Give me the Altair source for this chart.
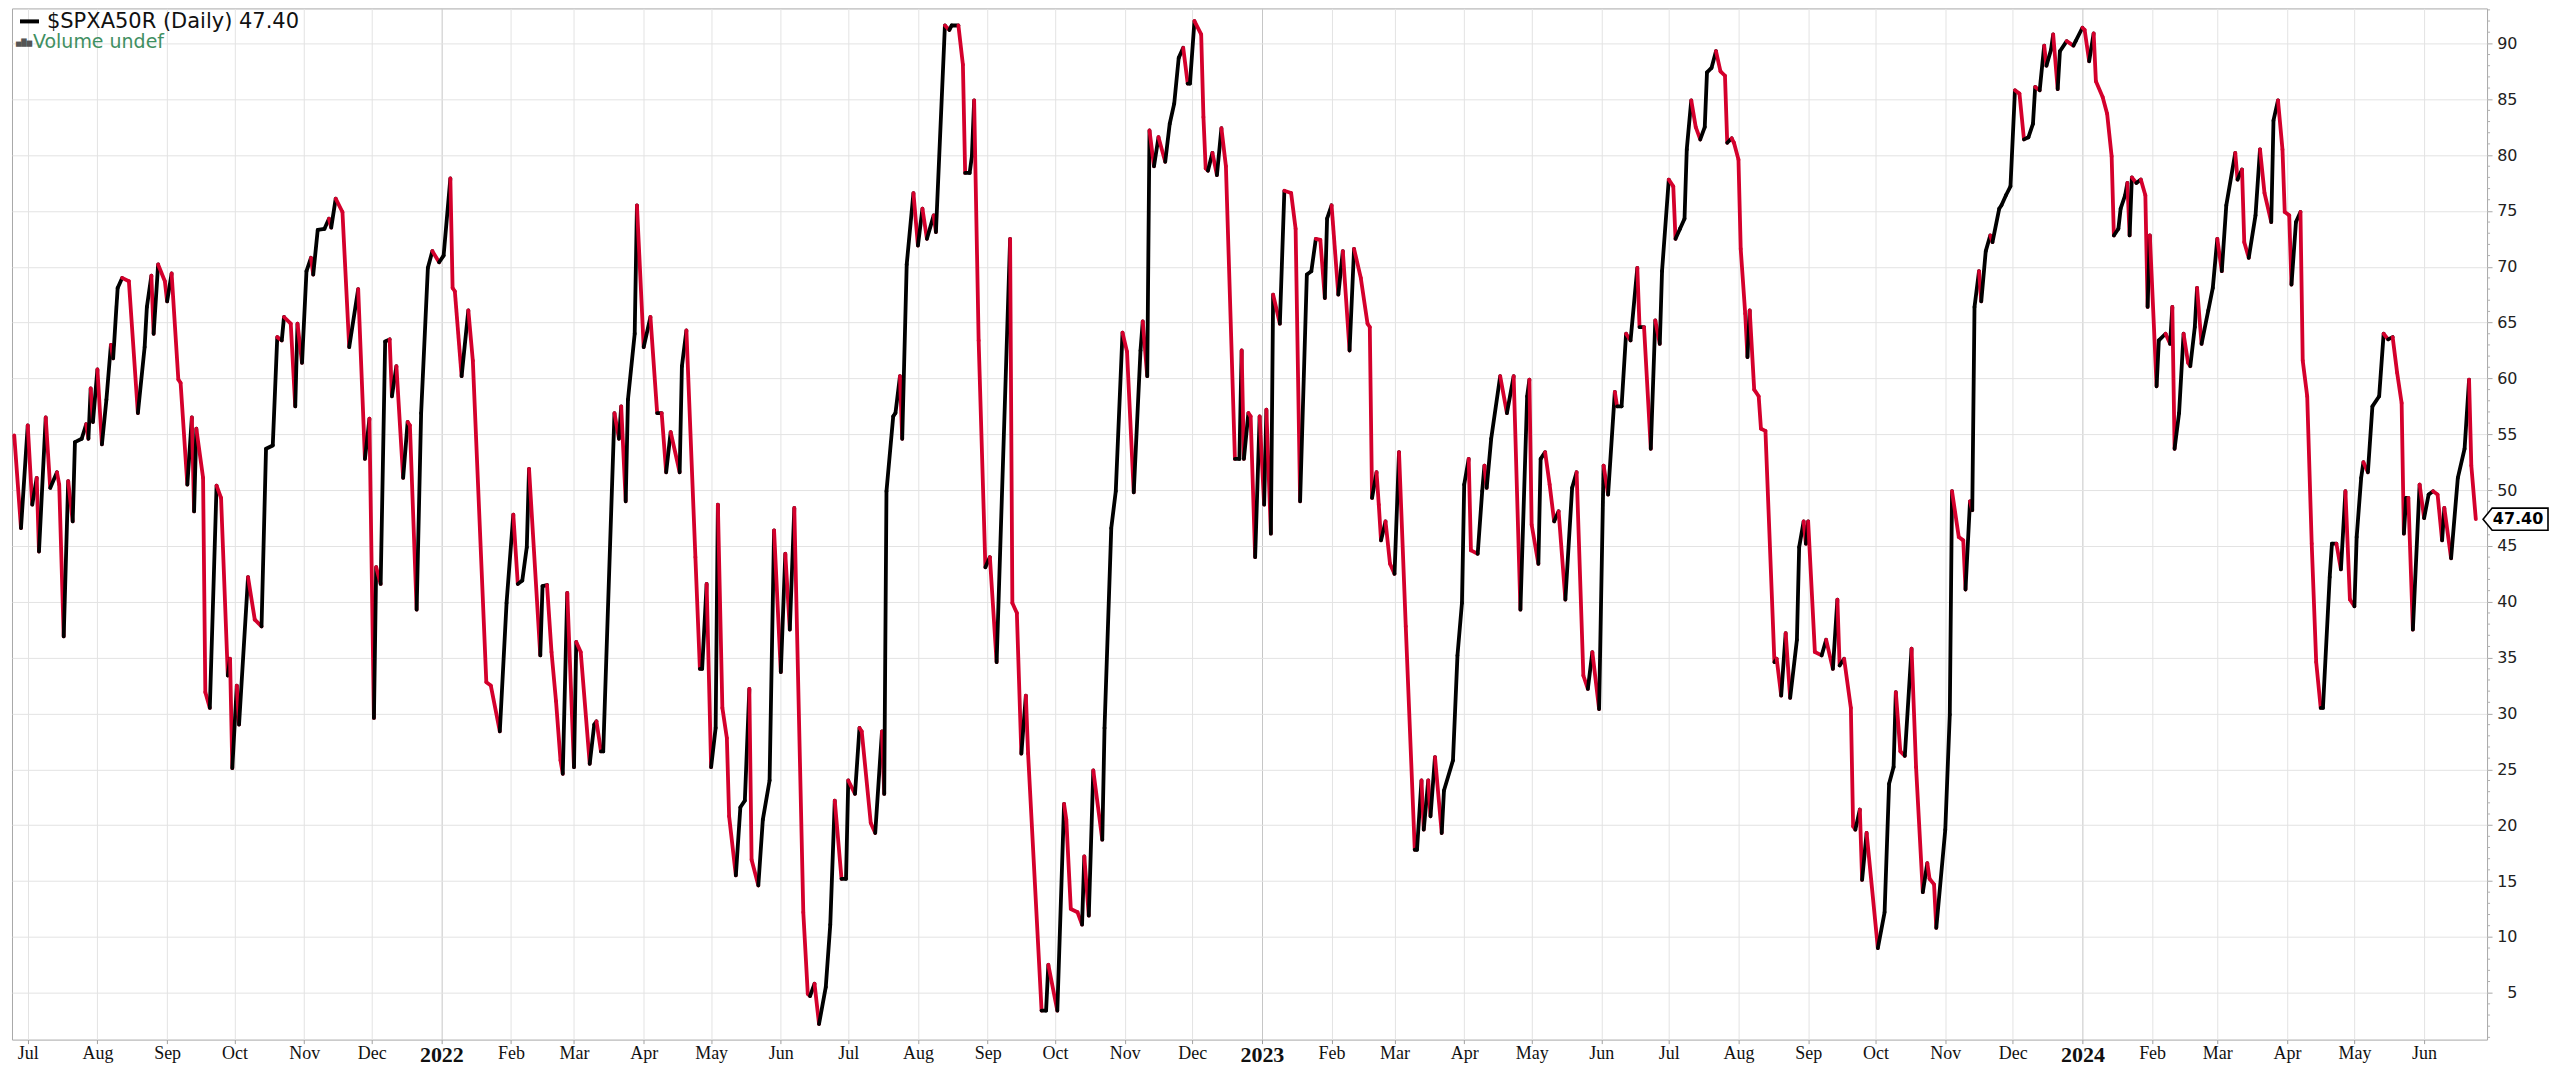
import altair as alt
import pandas as pd

# ---- data: days since 2021-07-01 and $SPXA50R values ----
days_2021 = [-6,-3,0,2,4,5,8,10,13,14,16,18,20,21,24,26,27,28,29,31,33,35,37,38,40,42,45,49,52,53,
             55,56,58,61,62,64,67,68,71,73,74,75,78,79,81,84,86,89,90,91,93,94,98,101,104,106,109,111,113,114,
             117,119,120,122,124,126,127,129,132,134,135,137,140,143,147,150,152,154,155,157,159,161,162,164,167,169,170,173,175,178,
             180,183]
vals_2021 = [54.9,46.6,55.8,48.7,51.1,44.5,56.5,50.2,51.6,50.5,36.9,50.8,47.2,54.3,54.6,55.9,54.6,59.1,56.1,60.8,
             54.1,58.1,63.0,61.8,68.1,69.0,68.7,56.9,62.8,66.4,69.2,64.0,70.2,68.7,66.9,69.4,59.9,59.6,50.5,56.5,
             48.1,55.5,51.1,31.9,30.5,50.4,49.3,33.4,34.9,25.1,32.5,29.0,42.2,38.4,37.8,53.7,54.0,63.7,63.4,65.5,
             64.9,57.5,64.9,61.4,69.6,70.8,69.3,73.3,73.4,74.3,73.5,76.1,74.9,62.8,68.0,52.8,56.4,29.6,43.1,41.6,
             63.3,63.5,58.4,61.1,51.1,56.1,55.8,39.3,56.9,69.9,71.4,70.4]

days_2022 = [185,188,189,190,193,196,198,204,206,210,213,216,218,220,222,223,228,229,231,233,235,237,238,240,243,244,246,250,252,253,
             255,256,261,263,264,266,267,270,271,274,277,280,282,284,286,290,291,293,297,299,300,302,304,306,307,309,311,312,315,317,
             319,321,322,325,327,330,332,335,337,339,341,345,347,348,350,352,355,357,359,362,364,365,368,370,371,375,377,380,381,382,
             385,386,388,389,391,394,396,398,400,403,404,408,410,411,414,416,417,419,420,421,423,426,428,431,437,438,440,442,444,445,
             451,453,454,458,461,462,464,467,469,470,472,474,478,479,482,484,487,489,492,495,496,498,499,501,503,506,508,510,512,514,
             516,517,519,522,523,524,525,527,529,531,533,537,539,540,541,543,544,546,548]
vals_2022 = [71.0,77.9,68.1,67.8,60.2,66.1,61.6,32.8,32.5,28.4,39.9,47.8,41.6,41.9,44.9,51.9,35.2,41.4,41.5,35.5,31.1,25.8,24.6,40.8,25.2,36.4,35.5,25.5,29.0,29.3,
             26.6,26.6,56.9,54.6,57.5,49.0,58.1,64.0,75.5,62.8,65.5,56.9,56.9,51.6,55.2,51.6,61.1,64.3,44.0,34.0,34.0,41.6,25.2,28.7,48.7,30.5,27.8,20.8,15.5,21.6,
             22.2,32.2,16.9,14.6,20.5,24.0,46.4,33.7,44.3,37.5,48.4,12.2,4.9,4.7,5.8,2.2,5.5,11.1,22.2,15.2,15.2,24.0,22.8,28.7,28.4,20.2,19.3,28.4,22.8,49.9,
             56.6,56.9,60.2,54.6,70.2,76.6,71.9,75.2,72.5,74.6,73.1,91.6,91.2,91.6,91.6,88.1,78.4,78.4,79.9,84.9,63.4,43.1,44.0,34.6,72.5,39.9,39.0,26.4,31.6,26.4,
             3.4,3.4,7.5,3.4,21.9,20.5,12.5,12.2,11.1,17.2,11.9,24.9,18.7,28.7,46.6,49.9,64.1,62.4,49.8,62.5,65.1,60.2,82.2,79.0,81.6,79.4,82.8,84.6,88.7,89.6,
             86.4,86.4,92.0,90.8,83.4,78.8,78.6,80.2,78.2,82.4,79.0,52.8,52.8,62.5,52.8,56.9,56.6,44.0,56.6]

days_2023 = [550,551,553,554,557,559,562,564,566,569,571,573,575,577,578,580,583,585,588,590,593,596,597,598,600,601,602,604,606,608,
             610,613,617,618,620,621,623,624,626,629,630,634,636,638,639,641,642,645,647,648,649,651,655,658,661,664,667,668,669,672,
             673,675,677,679,681,684,687,689,692,694,696,699,701,703,706,707,709,711,713,716,717,719,722,724,726,727,730,732,733,735,
             737,738,740,742,744,746,747,749,751,753,755,756,758,759,761,762,764,765,766,768,770,771,773,777,778,780,782,784,787,788,
             790,791,792,795,798,800,803,805,806,808,811,812,813,815,816,818,823,826,828,830,831,833,835,838,840,843,845,846,848,849,
             853,855,856,859,861,862,864,865,866,868,869,871,873,874,877,878,880,882,884,886,888,890,892,893,895,897,898,900,901,903,
             904,907,910,911]
vals_2023 = [48.7,57.2,46.1,67.5,64.9,76.8,76.6,73.4,49.0,69.3,69.6,72.5,72.4,67.2,74.3,75.5,67.5,71.4,62.5,71.6,69.0,64.9,64.6,49.3,51.6,48.7,45.5,47.2,43.4,42.5,
             53.4,37.8,17.8,17.8,24.0,19.6,24.0,20.8,26.1,19.3,23.1,25.8,35.2,39.9,50.5,52.8,44.6,44.3,49.9,52.2,50.2,54.6,60.2,56.9,60.2,39.3,58.4,59.9,46.9,43.4,
             52.8,53.4,50.5,47.2,48.1,40.2,50.2,51.6,33.4,32.2,35.5,30.4,52.2,49.6,58.8,57.5,57.5,64.0,63.4,69.9,64.6,64.6,53.7,65.2,63.1,69.6,77.8,77.2,72.5,73.4,
             74.3,80.5,84.9,82.5,81.4,82.5,87.4,87.8,89.3,87.5,87.1,81.1,81.5,81.1,79.6,71.6,65.8,61.9,66.1,59.0,58.4,55.5,55.3,34.6,34.9,31.6,37.2,31.4,36.6,44.9,
             47.2,45.2,47.2,35.5,35.2,36.6,34.0,40.2,34.3,34.9,30.5,19.9,19.6,21.4,15.1,19.3,9.0,12.2,23.7,25.2,31.9,26.6,26.2,35.8,25.2,14.0,16.6,15.2,14.7,10.8,
             19.6,29.9,49.9,45.8,45.5,41.1,49.0,48.2,66.4,69.6,66.9,71.4,72.8,72.2,75.2,75.5,76.4,77.2,85.8,85.5,81.4,81.6,82.8,86.1,85.8,89.8,88.0,89.4,90.8,85.9,
             89.3,90.2,89.8,90.2]

days_2024 = [914,915,917,919,920,923,925,927,928,930,931,933,934,935,936,938,940,942,943,944,947,948,951,953,954,955,957,959,961,962,
             964,965,967,970,972,974,976,978,982,983,985,986,988,991,993,995,998,999,1001,1003,1004,1006,1007,1009,1011,1012,1014,1016,1018,1020,
             1021,1024,1025,1027,1029,1031,1033,1035,1036,1038,1039,1041,1043,1046,1048,1050,1052,1054,1056,1057,1058,1059,1061,1064,1066,1068,1070,1072,1074,1075,
             1078,1081,1084,1086,1087,1089]
vals_2024 = [91.4,91.2,88.4,90.9,86.6,85.2,83.7,79.9,72.8,73.4,75.2,76.4,77.5,72.8,78.0,77.5,77.8,76.4,66.4,72.8,59.3,63.4,64.0,63.1,66.4,53.7,56.9,64.0,61.4,61.1,
             64.6,68.1,63.1,66.1,68.1,72.5,69.6,75.5,80.2,77.8,78.7,72.2,70.8,74.6,80.5,76.6,74.0,83.1,84.9,80.5,74.9,74.6,68.4,74.0,74.9,61.6,58.4,45.2,34.6,30.5,
             30.5,42.2,45.2,45.2,42.9,49.9,40.2,39.6,45.8,51.1,52.5,51.6,57.5,58.4,64.0,63.5,63.7,60.5,57.8,46.1,49.3,49.3,37.5,50.5,47.5,49.6,49.9,49.6,45.5,48.4,
             43.9,51.1,53.7,59.9,52.2,47.4]

for d, v in [(days_2021, vals_2021), (days_2022, vals_2022), (days_2023, vals_2023), (days_2024, vals_2024)]:
    assert len(d) == len(v), (len(d), len(v))

y_major_ticks = [5, 10, 15, 20, 25, 30, 35, 40, 45, 50, 55, 60, 65, 70, 75, 80, 85, 90]
y_minor_ticks = [v for v in range(1, 94) if v not in y_major_ticks]
symbol = "$SPXA50R"

# ---- build the table ----
days = days_2021 + days_2022 + days_2023 + days_2024
values = vals_2021 + vals_2022 + vals_2023 + vals_2024
base = pd.Timestamp("2021-07-01")
dates = [(base + pd.Timedelta(days=d)).strftime("%Y-%m-%d") for d in days]

seg = pd.DataFrame({
    "date": dates[:-1], "date2": dates[1:],
    "value": values[:-1], "value2": values[1:],
})
seg["dir"] = ["up" if b >= a else "down" for a, b in zip(values[:-1], values[1:])]
last = pd.DataFrame({"date": [dates[-1]], "value": [values[-1]]})
minor = pd.DataFrame({"value": y_minor_ticks})
one = pd.DataFrame({"k": [0]})

PLOT_W = 2477
PLOT_H = 1032

x_scale = alt.Scale(type="utc", nice=False,
                    domain=[alt.DateTime(year=2021, month=6, date=24, utc=True),
                            alt.DateTime(year=2024, month=6, date=29, utc=True)])
y_scale = alt.Scale(domain=[0.8, 93.13], nice=False, zero=False)

is_jan = "utcmonth(datum.value) == 0"
x_axis = alt.Axis(
    title=None,
    tickCount={"interval": "month", "step": 1},
    labelExpr=f"{is_jan} ? utcFormat(datum.value, '%Y') : utcFormat(datum.value, '%b')",
    labelFontWeight={"condition": {"test": is_jan, "value": "bold"}, "value": "normal"},
    labelFontSize={"condition": {"test": is_jan, "value": 22}, "value": 18},
    gridColor={"condition": {"test": is_jan, "value": "#c6c6c6"}, "value": "#e3e3e3"},
    labelFont="Liberation Sans Narrow",
    labelColor="#111111",
    labelOverlap=False,
    labelFlush=False,
    labelPadding=1,
    tickSize=4,
    tickColor="#a0a0a0",
    domain=False,
)
y_axis = alt.Axis(
    title=None,
    orient="right",
    values=y_major_ticks,
    labelOverlap=False,
    labelAlign="right",
    labelPadding=25,
    labelFont="DejaVu Sans",
    labelFontSize=16,
    labelColor="#222222",
    tickSize=5,
    tickColor="#a8a8a8",
    gridColor="#e3e3e3",
    domain=False,
)

lines = alt.Chart(seg).mark_rule(strokeWidth=3.8, strokeCap="round").encode(
    x=alt.X("date:T", scale=x_scale, axis=x_axis),
    x2="date2:T",
    y=alt.Y("value:Q", scale=y_scale, axis=y_axis),
    y2="value2:Q",
    color=alt.Color("dir:N", scale=alt.Scale(domain=["up", "down"], range=["#000000", "#d4002c"]), legend=None),
)

minor_ticks = alt.Chart(minor).mark_rule(color="#b0b0b0", strokeWidth=1).encode(
    x=alt.value(PLOT_W), x2=alt.value(PLOT_W + 3),
    y=alt.Y("value:Q", scale=y_scale),
)

tag_path = "M-1,0L-0.72,-0.34L1,-0.34L1,0.34L-0.72,0.34Z"
tag = alt.Chart(last).mark_point(shape=tag_path, size=65 * 65, filled=True, fill="white",
                                 stroke="black", strokeWidth=1.6, opacity=1).encode(
    x=alt.value(PLOT_W + 28.5),
    y=alt.Y("value:Q", scale=y_scale),
)
tag_text = alt.Chart(last).mark_text(font="DejaVu Sans", fontWeight="bold", fontSize=16,
                                     align="center", baseline="middle", color="black").encode(
    x=alt.value(PLOT_W + 31),
    y=alt.Y("value:Q", scale=y_scale),
    text=alt.Text("value:Q", format=".2f"),
)

title_text = alt.Chart(one).mark_text(font="DejaVu Sans", fontSize=21, align="left",
                                      baseline="alphabetic", color="#111111").encode(
    x=alt.value(35), y=alt.value(20),
    text=alt.value(f"{symbol} (Daily) {values[-1]:.2f}"),
)
title_dash = alt.Chart(one).mark_rule(color="black", strokeWidth=4).encode(
    x=alt.value(8), x2=alt.value(27), y=alt.value(13),
)
vol_icon = alt.Chart(one).mark_text(font="DejaVu Sans", fontSize=7, align="left",
                                    baseline="alphabetic", color="#555555").encode(
    x=alt.value(4), y=alt.value(37), text=alt.value("▅█▆"),
)
vol_text = alt.Chart(one).mark_text(font="DejaVu Sans", fontSize=19, align="left",
                                    baseline="alphabetic", color="#3f8f62").encode(
    x=alt.value(21), y=alt.value(40), text=alt.value("Volume undef"),
)

chart = alt.layer(lines, minor_ticks, tag, tag_text, title_dash, title_text, vol_icon, vol_text).properties(
    width=PLOT_W, height=PLOT_H,
    padding={"left": 4, "top": 0, "right": 0, "bottom": 0},
    background="white",
).configure_view(stroke="#a8a8a8", strokeWidth=1)

chart.save("out.html", embed_options={"renderer": "svg", "actions": False})
